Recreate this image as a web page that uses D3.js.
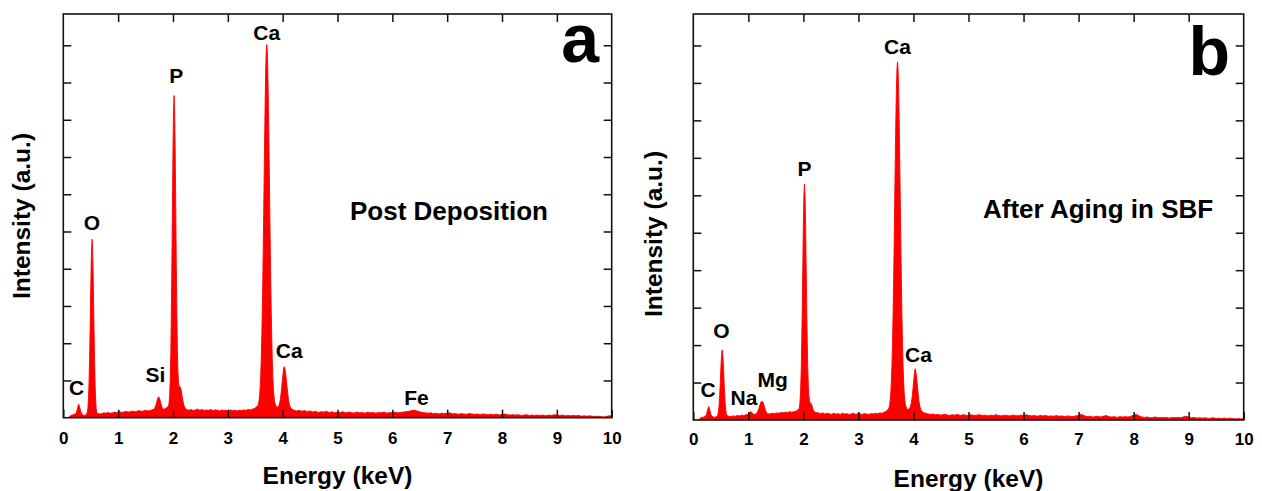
<!DOCTYPE html>
<html>
<head>
<meta charset="utf-8">
<script src="https://cdn.jsdelivr.net/npm/d3@7/dist/d3.min.js"></script>
<style>
  html, body { margin: 0; padding: 0; background: #fff; }
  svg { display: block; }
  text { font-family: "Liberation Sans", Arial, Helvetica, sans-serif; font-weight: bold; fill: #000; }
</style>
</head>
<body>
<svg id="chart" width="1262" height="491"></svg>
<script>
// ---- EDS spectra: [energy (keV), intensity (a.u.)] ----
const energyTicks = [0, 1, 2, 3, 4, 5, 6, 7, 8, 9, 10];
const intensityTicks = [1, 2, 3, 4, 5, 6, 7, 8, 9, 10];

// (a) post deposition
const spectrumA = [
  [0.10,0.00],[0.12,0.04],[0.14,0.06],[0.16,0.07],[0.18,0.08],[0.20,0.09],[0.22,0.10],
  [0.24,0.14],[0.26,0.26],[0.28,0.36],[0.30,0.28],[0.32,0.15],[0.34,0.09],[0.36,0.07],
  [0.38,0.06],[0.40,0.07],[0.42,0.08],
  [0.44,0.16],[0.45,0.28],[0.46,0.53],[0.47,0.96],[0.48,1.62],[0.49,2.47],[0.50,3.42],
  [0.51,4.24],[0.52,4.70],[0.525,4.79],[0.53,4.68],[0.54,4.18],[0.55,3.36],[0.56,2.40],
  [0.57,1.55],[0.58,0.90],[0.59,0.48],[0.60,0.24],[0.61,0.14],
  [0.62,0.12],[0.66,0.10],[0.70,0.11],[0.74,0.13],[0.78,0.12],[0.82,0.14],[0.86,0.12],
  [0.90,0.13],[0.94,0.15],[0.98,0.13],[1.02,0.17],[1.06,0.14],[1.10,0.15],[1.14,0.17],
  [1.18,0.15],[1.22,0.16],[1.26,0.18],[1.30,0.16],[1.34,0.17],[1.38,0.19],[1.42,0.17],
  [1.46,0.18],[1.50,0.20],[1.54,0.18],[1.58,0.19],[1.62,0.21],[1.66,0.24],
  [1.68,0.30],[1.70,0.40],[1.72,0.52],[1.74,0.56],[1.76,0.50],[1.78,0.38],[1.80,0.28],
  [1.82,0.24],[1.84,0.23],[1.86,0.24],[1.88,0.27],[1.90,0.29],
  [1.92,0.31],[1.93,0.41],[1.94,0.62],[1.95,1.02],[1.96,1.70],[1.97,2.73],[1.98,4.10],
  [1.99,5.67],[2.00,7.16],[2.01,8.25],[2.02,8.65],[2.03,8.27],[2.04,7.18],[2.05,5.72],
  [2.06,4.18],[2.07,2.85],[2.08,1.88],[2.09,1.25],[2.10,0.96],[2.11,0.86],[2.12,0.84],
  [2.13,0.83],[2.14,0.80],[2.15,0.74],[2.16,0.64],[2.18,0.46],[2.20,0.33],[2.22,0.26],
  [2.25,0.22],
  [2.29,0.20],[2.33,0.22],[2.37,0.19],[2.41,0.21],[2.45,0.23],[2.49,0.20],[2.53,0.22],
  [2.57,0.19],[2.61,0.21],[2.65,0.20],[2.69,0.22],[2.73,0.19],[2.77,0.21],[2.81,0.20],
  [2.85,0.18],[2.89,0.21],[2.93,0.19],[2.97,0.20],[3.01,0.18],[3.05,0.21],[3.09,0.19],
  [3.13,0.20],[3.17,0.18],[3.21,0.20],[3.25,0.19],[3.29,0.21],[3.33,0.20],[3.37,0.22],
  [3.41,0.21],[3.45,0.23],[3.49,0.25],[3.53,0.30],
  [3.55,0.33],[3.56,0.38],[3.57,0.46],[3.58,0.60],[3.59,0.82],[3.60,1.14],[3.61,1.59],
  [3.62,2.20],[3.63,2.98],[3.64,3.93],[3.65,5.02],[3.66,6.18],[3.67,7.35],[3.68,8.41],
  [3.69,9.27],[3.70,9.83],[3.71,10.02],[3.72,9.83],[3.73,9.27],[3.74,8.41],[3.75,7.35],
  [3.76,6.18],[3.77,5.02],[3.78,3.93],[3.79,2.98],[3.80,2.20],[3.81,1.59],[3.82,1.14],
  [3.83,0.82],[3.84,0.60],[3.85,0.46],[3.86,0.38],[3.88,0.31],[3.90,0.28],
  [3.92,0.30],[3.94,0.36],[3.96,0.50],[3.98,0.78],[4.00,1.10],[4.02,1.33],[4.03,1.37],
  [4.04,1.33],[4.06,1.12],[4.08,0.82],[4.10,0.55],[4.12,0.37],[4.14,0.28],[4.17,0.23],
  [4.20,0.21],[4.25,0.18],[4.30,0.20],[4.35,0.17],[4.40,0.19],[4.45,0.16],[4.50,0.18],
  [4.55,0.15],[4.60,0.17],[4.65,0.14],[4.70,0.16],[4.75,0.15],[4.80,0.17],[4.85,0.14],
  [4.90,0.16],[4.95,0.13],[5.00,0.15],[5.05,0.14],[5.10,0.16],[5.15,0.13],[5.20,0.15],
  [5.25,0.14],[5.30,0.12],[5.35,0.15],[5.40,0.13],[5.45,0.14],[5.50,0.12],[5.55,0.15],
  [5.60,0.13],[5.65,0.14],[5.70,0.12],[5.75,0.14],[5.80,0.13],[5.85,0.15],[5.90,0.12],
  [5.95,0.14],[6.00,0.13],[6.05,0.15],[6.10,0.13],[6.15,0.14],[6.20,0.15],[6.25,0.16],
  [6.30,0.17],[6.35,0.19],[6.40,0.20],[6.45,0.18],[6.50,0.16],[6.55,0.14],[6.60,0.13],
  [6.65,0.12],[6.70,0.13],[6.75,0.11],[6.80,0.12],[6.85,0.10],[6.90,0.12],[6.95,0.11],
  [7.00,0.12],[7.05,0.13],[7.10,0.10],[7.15,0.11],[7.20,0.09],[7.25,0.11],[7.30,0.10],
  [7.35,0.09],[7.40,0.11],[7.45,0.10],[7.50,0.09],[7.55,0.10],[7.60,0.08],[7.65,0.10],
  [7.70,0.09],[7.75,0.08],[7.80,0.09],[7.85,0.08],[7.90,0.09],[7.95,0.07],[8.00,0.09],
  [8.05,0.10],[8.10,0.08],[8.15,0.07],[8.20,0.08],[8.25,0.07],[8.30,0.08],[8.35,0.06],
  [8.40,0.07],[8.45,0.08],[8.50,0.06],[8.55,0.07],[8.60,0.06],[8.65,0.07],[8.70,0.06],
  [8.75,0.07],[8.80,0.05],[8.85,0.07],[8.90,0.06],[8.95,0.08],[9.00,0.07],[9.05,0.06],
  [9.10,0.07],[9.15,0.05],[9.20,0.06],[9.25,0.05],[9.30,0.06],[9.35,0.05],[9.40,0.06],
  [9.45,0.04],[9.50,0.05],[9.55,0.04],[9.60,0.05],[9.65,0.04],[9.70,0.03],[9.75,0.04],
  [9.80,0.03],[9.85,0.02],[9.90,0.03],[9.95,0.05],[10.00,0.04]
];

// (b) after aging in SBF
const spectrumB = [
  [0.10,0.00],[0.12,0.04],[0.14,0.06],[0.16,0.08],[0.18,0.07],[0.20,0.09],[0.22,0.10],
  [0.24,0.15],[0.26,0.27],[0.28,0.36],[0.30,0.27],[0.32,0.15],[0.34,0.10],[0.36,0.08],
  [0.38,0.07],[0.40,0.08],[0.42,0.09],
  [0.44,0.12],[0.45,0.17],[0.46,0.26],[0.47,0.42],[0.48,0.67],[0.49,0.99],[0.50,1.35],
  [0.51,1.66],[0.52,1.85],[0.525,1.87],[0.53,1.85],[0.54,1.66],[0.55,1.35],[0.56,0.99],
  [0.57,0.67],[0.58,0.42],[0.59,0.26],[0.60,0.17],[0.61,0.12],
  [0.64,0.10],[0.68,0.09],[0.72,0.11],[0.76,0.10],[0.80,0.12],[0.84,0.11],[0.88,0.13],
  [0.92,0.12],[0.96,0.14],[0.99,0.15],
  [1.01,0.18],[1.03,0.22],[1.05,0.22],[1.07,0.19],[1.09,0.16],[1.11,0.15],[1.13,0.16],
  [1.15,0.18],
  [1.17,0.22],[1.19,0.30],[1.21,0.40],[1.23,0.48],[1.25,0.50],[1.27,0.46],[1.29,0.37],
  [1.31,0.27],[1.33,0.20],[1.35,0.17],
  [1.39,0.16],[1.43,0.18],[1.47,0.17],[1.51,0.19],[1.55,0.18],[1.59,0.20],[1.63,0.19],
  [1.67,0.21],[1.71,0.20],[1.75,0.22],[1.79,0.21],[1.83,0.22],[1.87,0.24],[1.90,0.27],
  [1.92,0.30],[1.93,0.36],[1.94,0.52],[1.95,0.80],[1.96,1.29],[1.97,2.03],[1.98,3.02],
  [1.99,4.15],[2.00,5.23],[2.01,6.01],[2.02,6.30],[2.03,6.01],[2.04,5.23],[2.05,4.17],
  [2.06,3.05],[2.07,2.08],[2.08,1.36],[2.09,0.90],[2.10,0.64],[2.11,0.52],[2.12,0.47],
  [2.13,0.45],[2.14,0.44],[2.15,0.42],[2.16,0.36],[2.18,0.27],[2.20,0.22],[2.23,0.20],
  [2.27,0.19],[2.31,0.17],[2.35,0.19],[2.39,0.16],[2.43,0.18],[2.47,0.17],[2.51,0.15],
  [2.55,0.18],[2.59,0.16],[2.63,0.17],[2.67,0.15],[2.71,0.18],[2.75,0.16],[2.79,0.17],
  [2.83,0.15],[2.87,0.16],[2.91,0.18],[2.95,0.15],[2.99,0.17],[3.03,0.16],[3.07,0.15],
  [3.11,0.17],[3.15,0.16],[3.19,0.15],[3.23,0.17],[3.27,0.16],[3.31,0.18],[3.35,0.17],
  [3.39,0.19],[3.43,0.18],[3.47,0.21],[3.51,0.24],[3.53,0.27],
  [3.55,0.31],[3.56,0.35],[3.57,0.44],[3.58,0.57],[3.59,0.77],[3.60,1.08],[3.61,1.51],
  [3.62,2.09],[3.63,2.84],[3.64,3.74],[3.65,4.78],[3.66,5.90],[3.67,7.01],[3.68,8.02],
  [3.69,8.84],[3.70,9.37],[3.71,9.56],[3.72,9.37],[3.73,8.84],[3.74,8.02],[3.75,7.01],
  [3.76,5.90],[3.77,4.78],[3.78,3.74],[3.79,2.84],[3.80,2.09],[3.81,1.51],[3.82,1.08],
  [3.83,0.77],[3.84,0.57],[3.85,0.44],[3.86,0.37],[3.88,0.31],[3.90,0.28],
  [3.92,0.29],[3.94,0.34],[3.96,0.45],[3.98,0.65],[4.00,0.97],[4.02,1.28],[4.03,1.37],
  [4.04,1.33],[4.06,1.10],[4.08,0.78],[4.10,0.50],[4.12,0.34],[4.14,0.26],[4.17,0.21],
  [4.20,0.19],[4.25,0.17],[4.30,0.15],[4.35,0.16],[4.40,0.14],[4.45,0.15],[4.50,0.13],
  [4.55,0.15],[4.60,0.14],[4.65,0.12],[4.70,0.14],[4.75,0.13],[4.80,0.15],[4.85,0.12],
  [4.90,0.14],[4.95,0.13],[5.00,0.12],[5.05,0.14],[5.10,0.12],[5.15,0.13],[5.20,0.14],
  [5.25,0.12],[5.30,0.13],[5.35,0.11],[5.40,0.13],[5.45,0.12],[5.50,0.14],[5.55,0.12],
  [5.60,0.11],[5.65,0.13],[5.70,0.12],[5.75,0.11],[5.80,0.13],[5.85,0.12],[5.90,0.11],
  [5.95,0.13],[6.00,0.12],[6.05,0.14],[6.10,0.12],[6.15,0.11],[6.20,0.12],[6.25,0.10],
  [6.30,0.12],[6.35,0.11],[6.40,0.12],[6.45,0.10],[6.50,0.11],[6.55,0.10],[6.60,0.12],
  [6.65,0.10],[6.70,0.11],[6.75,0.09],[6.80,0.11],[6.85,0.10],[6.90,0.09],[6.95,0.11],
  [7.00,0.12],[7.05,0.15],[7.10,0.12],[7.15,0.09],[7.20,0.10],[7.25,0.08],[7.30,0.09],
  [7.35,0.10],[7.40,0.08],[7.45,0.10],[7.50,0.12],[7.55,0.09],[7.60,0.08],[7.65,0.09],
  [7.70,0.07],[7.75,0.09],[7.80,0.08],[7.85,0.09],[7.90,0.08],[7.95,0.10],[8.00,0.13],
  [8.05,0.15],[8.10,0.11],[8.15,0.08],[8.20,0.07],[8.25,0.08],[8.30,0.06],[8.35,0.07],
  [8.40,0.08],[8.45,0.06],[8.50,0.07],[8.55,0.06],[8.60,0.07],[8.65,0.05],[8.70,0.07],
  [8.75,0.06],[8.80,0.07],[8.85,0.06],[8.90,0.08],[8.95,0.10],[9.00,0.08],[9.05,0.06],
  [9.10,0.07],[9.15,0.05],[9.20,0.06],[9.25,0.05],[9.30,0.06],[9.35,0.04],[9.40,0.05],
  [9.45,0.06],[9.50,0.04],[9.55,0.05],[9.60,0.04],[9.65,0.05],[9.70,0.04],[9.75,0.05],
  [9.80,0.04],[9.85,0.03],[9.90,0.04],[9.95,0.03],[10.00,0.04]
];

// element labels, anchored in data coordinates (energy, intensity)
const peaksA = [
  { el: "C",  e: 0.24, v: 0.61 },
  { el: "O",  e: 0.52, v: 5.03 },
  { el: "Si", e: 1.68, v: 0.97 },
  { el: "P",  e: 2.06, v: 8.98 },
  { el: "Ca", e: 3.71, v: 10.13 },
  { el: "Ca", e: 4.12, v: 1.59 },
  { el: "Fe", e: 6.44, v: 0.34 }
];
const peaksB = [
  { el: "C",  e: 0.27, v: 0.62 },
  { el: "O",  e: 0.51, v: 2.18 },
  { el: "Na", e: 0.92, v: 0.40 },
  { el: "Mg", e: 1.44, v: 0.88 },
  { el: "P",  e: 2.02, v: 6.51 },
  { el: "Ca", e: 3.71, v: 9.76 },
  { el: "Ca", e: 4.09, v: 1.56 }
];

const panelLetters = ["a", "b"];
const captions = ["Post Deposition", "After Aging in SBF"];
const xTitle = "Energy (keV)";
const yTitle = "Intensity (a.u.)";

// ---- layout ----
const panels = [
  { id: "a", data: spectrumA, peaks: peaksA, letter: panelLetters[0], caption: captions[0],
    left: 63.3, right: 611.7, top: 14, bottom: 417.7,
    tickPad: 14, xTitleY: 483.5, yTitleX: 29.5, yTitleY: 216,
    letterX: 599, letterY: 62, captionX: 350, captionY: 220 },
  { id: "b", data: spectrumB, peaks: peaksB, letter: panelLetters[1], caption: captions[1],
    left: 693.3, right: 1243.7, top: 14, bottom: 420,
    tickPad: 12.5, xTitleY: 487, yTitleX: 661.5, yTitleY: 234,
    letterX: 1230, letterY: 75, captionX: 983, captionY: 218 }
];

const yMax = 10.84;
const svg = d3.select("#chart");
const red = "#ff0000";

panels.forEach(p => {
  const x = d3.scaleLinear().domain([0, 10]).range([p.left, p.right]);
  const y = d3.scaleLinear().domain([0, yMax]).range([p.bottom, p.top]);
  const g = svg.append("g");

  g.append("clipPath").attr("id", "clip-" + p.id)
    .append("rect")
    .attr("x", p.left).attr("y", p.top)
    .attr("width", p.right - p.left).attr("height", p.bottom - p.top);

  // spectrum as filled area
  const area = d3.area()
    .x(d => x(d[0]))
    .y0(y(0))
    .y1(d => y(d[1]));
  g.append("path")
    .datum(p.data)
    .attr("clip-path", "url(#clip-" + p.id + ")")
    .attr("d", area)
    .attr("fill", red)
    .attr("stroke", red)
    .attr("stroke-width", 0.9)
    .attr("stroke-linejoin", "round");

  // inward ticks on all four sides
  const tickStyle = sel => {
    sel.select(".domain").remove();
    sel.selectAll(".tick line").attr("stroke", "#111").attr("stroke-width", 1.5);
  };
  g.append("g").attr("transform", `translate(0,${p.bottom})`)
    .call(d3.axisBottom(x).tickValues(energyTicks).tickSizeInner(-8).tickSizeOuter(0)
      .tickPadding(p.tickPad).tickFormat(d3.format("d")))
    .call(tickStyle)
    .call(s => s.selectAll(".tick text")
      .attr("font-size", 17).attr("font-weight", "bold")
      .attr("font-family", '"Liberation Sans", Arial, sans-serif').attr("fill", "#000"));
  g.append("g").attr("transform", `translate(0,${p.top})`)
    .call(d3.axisTop(x).tickValues(energyTicks.slice(1, -1)).tickSizeInner(-8).tickSizeOuter(0).tickFormat(""))
    .call(tickStyle);
  g.append("g").attr("transform", `translate(${p.left},0)`)
    .call(d3.axisLeft(y).tickValues(intensityTicks).tickSizeInner(-8).tickSizeOuter(0).tickFormat(""))
    .call(tickStyle);
  g.append("g").attr("transform", `translate(${p.right},0)`)
    .call(d3.axisRight(y).tickValues(intensityTicks).tickSizeInner(-8).tickSizeOuter(0).tickFormat(""))
    .call(tickStyle);

  // frame
  g.append("rect")
    .attr("x", p.left).attr("y", p.top)
    .attr("width", p.right - p.left).attr("height", p.bottom - p.top)
    .attr("fill", "none").attr("stroke", "#111").attr("stroke-width", 1.6);

  // element labels
  g.selectAll("text.peak")
    .data(p.peaks)
    .join("text")
    .attr("class", "peak")
    .attr("x", d => x(d.e))
    .attr("y", d => y(d.v))
    .attr("text-anchor", "middle")
    .attr("font-size", 21)
    .text(d => d.el);

  // panel letter and caption
  g.append("text")
    .attr("x", p.letterX).attr("y", p.letterY)
    .attr("text-anchor", "end").attr("font-size", 68)
    .text(p.letter);
  g.append("text")
    .attr("x", p.captionX).attr("y", p.captionY)
    .attr("font-size", 26)
    .text(p.caption);

  // axis titles
  g.append("text")
    .attr("x", (p.left + p.right) / 2).attr("y", p.xTitleY)
    .attr("text-anchor", "middle").attr("font-size", 24.5)
    .text(xTitle);
  g.append("text")
    .attr("transform", `translate(${p.yTitleX},${p.yTitleY}) rotate(-90)`)
    .attr("text-anchor", "middle").attr("font-size", 24.5)
    .text(yTitle);
});
</script>
</body>
</html>
